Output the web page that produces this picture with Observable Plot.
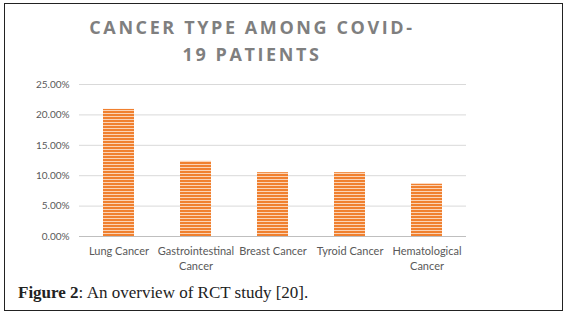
<!DOCTYPE html>
<html>
<head>
<meta charset="utf-8">
<script src="https://cdn.jsdelivr.net/npm/d3@7"></script>
<script src="https://cdn.jsdelivr.net/npm/@observablehq/plot@0.6"></script>
<style>
  html, body { margin: 0; padding: 0; background: #fff; }
  #wrap { position: relative; width: 570px; height: 313px; overflow: hidden; }
  #frame { position: absolute; left: 4px; top: 3px; width: 557px; height: 306px; border: 1px solid #222; box-sizing: content-box; }
  #title { position: absolute; left: 52px; width: 400px; top: 14px; text-align: center;
    font-family: "Open Sans", sans-serif; font-weight: 700; font-size: 18px; line-height: 27px;
    color: #7f7f7f; letter-spacing: 2.6px; }
  #caption { position: absolute; left: 18px; top: 283px; font-family: "Liberation Serif", serif;
    font-size: 17px; color: #222; }
  #chart { position: absolute; left: 0; top: 0; }
</style>
</head>
<body>
<div id="wrap">
  <div id="frame"></div>
  <div id="chart"></div>
  <div id="title">CANCER TYPE AMONG COVID-<br>19 PATIENTS</div>
  <div id="caption"><b>Figure 2</b>: An overview of RCT study [20].</div>
</div>
<script>
const categories = ["Lung Cancer", "Gastrointestinal Cancer", "Breast Cancer", "Tyroid Cancer", "Hematological Cancer"];
const tickLabels = ["Lung Cancer", "Gastrointestinal\nCancer", "Breast Cancer", "Tyroid Cancer", "Hematological\nCancer"];
const values = [0.209, 0.1235, 0.105, 0.105, 0.086];
const yTicks = [0, 0.05, 0.10, 0.15, 0.20, 0.25];

const data = categories.map((c, i) => ({category: c, value: values[i]}));
const labelOf = new Map(categories.map((c, i) => [c, tickLabels[i]]));

const chart = Plot.plot({
  width: 570,
  height: 313,
  marginLeft: 79,
  marginRight: 104,
  marginTop: 84,
  marginBottom: 77,
  style: {fontFamily: "Lato, sans-serif", fontSize: "10px", color: "#595959", background: "transparent", overflow: "visible"},
  x: {domain: categories, paddingInner: 0.6, paddingOuter: 0.3, label: null},
  y: {domain: [0, 0.25], label: null},
  marks: [
    Plot.gridY(yTicks.slice(1), {stroke: "#d9d9d9", strokeOpacity: 1}),
    Plot.ruleY([0], {stroke: "#bfbfbf", strokeWidth: 1}),
    Plot.barY(data, {x: "category", y: "value", fill: "url(#stripes)"}),
    Plot.axisY({ticks: yTicks, tickFormat: d3.format(".2%"), tickSize: 0, tickPadding: 10, fill: "#595959"}),
    Plot.axisX({tickFormat: d => labelOf.get(d), tickSize: 0, tickPadding: 8, fill: "#595959", fontSize: 11, lineHeight: 1.36})
  ]
});

const ns = "http://www.w3.org/2000/svg";
const defs = document.createElementNS(ns, "defs");
defs.innerHTML = `<pattern id="stripes" patternUnits="userSpaceOnUse" width="6" height="3">
  <rect width="6" height="3" fill="#f0802f"></rect>
  <rect y="2" width="6" height="1" fill="#fbd3b5"></rect>
</pattern>`;
chart.insertBefore(defs, chart.firstChild);
document.getElementById("chart").appendChild(chart);
</script>
</body>
</html>
